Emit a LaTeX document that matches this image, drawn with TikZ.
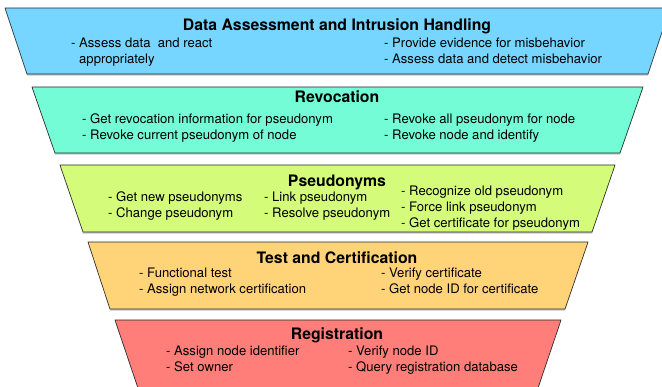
\documentclass[tikz,border=0pt]{standalone}
\usepackage{fontspec}
\setmainfont{TeX Gyre Heros}
\usetikzlibrary{shadows}
\definecolor{sky}{HTML}{76D6FF}
\definecolor{spindrift}{HTML}{73FCD6}
\definecolor{honeydew}{HTML}{D4FB79}
\definecolor{cantaloupe}{HTML}{FFD479}
\definecolor{salmon}{HTML}{FF7E79}
\tikzset{>=latex}

\begin{document}
\begin{tikzpicture}[x=1pt,y=-1pt,
  layer/.style={draw=black!85,line width=0.6pt,drop shadow={shadow xshift=0pt,shadow yshift=-1.5pt,opacity=0.45}},
  title/.style={font=\fontsize{15.8}{18}\selectfont\bfseries,inner sep=0pt},
  items/.style={font=\fontsize{13.1}{16}\selectfont,align=left,anchor=west,inner sep=0pt,
    execute at begin node=\strut,execute at end node=\strut}]
\useasboundingbox (0,0) rectangle (662,386);
% the five layers, top to bottom
\draw[layer,fill=sky] (5,8) -- (670,8) -- (648,74) -- (27,74) -- cycle;
\draw[layer,fill=spindrift] (32,87) -- (643,87) -- (620,153) -- (55,153) -- cycle;
\draw[layer,fill=honeydew] (60,165) -- (615,165) -- (592,232) -- (83,232) -- cycle;
\draw[layer,fill=cantaloupe] (88,242) -- (588,242) -- (565,309) -- (110,309) -- cycle;
\draw[layer,fill=salmon] (115,320) -- (561,320) -- (538,388) -- (138,388) -- cycle;
% data assessment
\node[title] (dtitle) at (337,26) {Data Assessment and Intrusion Handling};
\node[items] (dleft) at (71,53) {- Assess data\ \ and react\\\phantom{- }appropriately};
\node[items] (dright) at (384,53) {- Provide evidence for misbehavior\\- Assess data and detect misbehavior};
% revocation
\node[title] (rtitle) at (337,97) {Revocation};
\node[items] (rleft) at (82,129.5) {- Get revocation information for pseudonym\\- Revoke current pseudonym of node};
\node[items] (rright) at (384,129.5) {- Revoke all pseudonym for node\\- Revoke node and identify};
% pseudonyms
\node[title] (ptitle) at (337,182) {Pseudonyms};
\node[items] (pleft) at (108,207.5) {- Get new pseudonyms\\- Change pseudonym};
\node[items] (pmid) at (264,207.5) {- Link pseudonym\\- Resolve pseudonym};
\node[items] (pright) at (401,209) {- Recognize old pseudonym\\- Force link pseudonym\\- Get certificate for pseudonym};
% test and certification
\node[title] (ttitle) at (337,258) {Test and Certification};
\node[items] (tleft) at (139,283.5) {- Functional test\\- Assign network certification};
\node[items] (tright) at (381,283.5) {- Verify certificate\\- Get node ID for certificate};
% registration
\node[title] (gtitle) at (337,335) {Registration};
\node[items] (gleft) at (166,361.5) {- Assign node identifier\\- Set owner};
\node[items] (gright) at (348,361.5) {- Verify node ID\\- Query registration database};
\end{tikzpicture}
\end{document}
